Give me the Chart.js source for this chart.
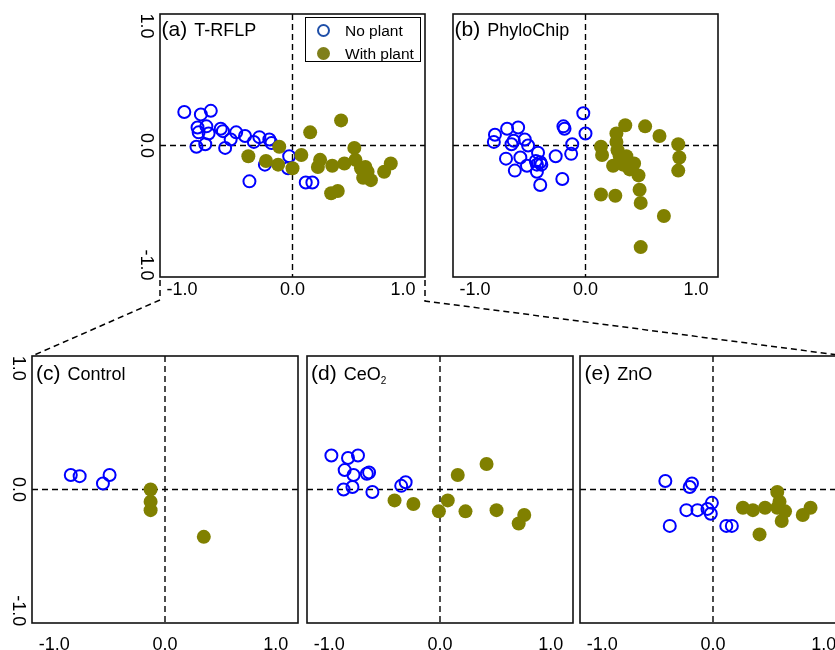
<!DOCTYPE html>
<html><head><meta charset="utf-8">
<script src="https://cdn.jsdelivr.net/npm/chart.js@4.4.1/dist/chart.umd.min.js"></script>
<style>
html,body{margin:0;padding:0;background:#fff;width:835px;height:650px;overflow:hidden;position:relative;font-family:"Liberation Sans",Arial,sans-serif;}
canvas{position:absolute;}
.ttl{position:absolute;display:flex;align-items:baseline;color:#000;white-space:nowrap;}
.ttl .lab{font-size:21px;line-height:21px;margin-right:7px;}
.ttl .nm{font-size:18px;line-height:18px;}
.ttl sub{font-size:10px;vertical-align:-4px;line-height:0;}
#legend{position:absolute;left:305px;top:17px;width:114px;height:43px;border:1.5px solid #000;background:#fff;}
#legend .mk{position:absolute;width:9px;height:9px;border-radius:50%;}
#legend .tx{position:absolute;left:39px;font-size:15.5px;line-height:16px;white-space:nowrap;}
svg{position:absolute;left:0;top:0;}
</style></head>
<body>
<script>
// ---- data (ordination scores) ----
const tickValues = [-1, 0, 1];
const axisMin = -1.2, axisMax = 1.2;
const yMin = -1.1, yMax = 1.1;

const trflpNoPlant = [[-0.98,0.28],[-0.83,0.26],[-0.74,0.29],[-0.86,0.15],[-0.78,0.16],[-0.85,0.11],[-0.76,0.10],[-0.65,0.14],[-0.63,0.12],[-0.87,-0.01],[-0.79,0.01],[-0.61,-0.02],[-0.56,0.05],[-0.51,0.11],[-0.43,0.08],[-0.35,0.03],[-0.30,0.07],[-0.21,0.05],[-0.19,0.02],[-0.25,-0.16],[-0.39,-0.30],[-0.03,-0.09],[-0.04,-0.19],[0.12,-0.31],[0.18,-0.31]];
const trflpWithPlant = [[0.44,0.21],[0.16,0.11],[-0.12,-0.01],[-0.40,-0.09],[-0.24,-0.13],[-0.13,-0.16],[0.00,-0.19],[0.08,-0.08],[0.25,-0.12],[0.23,-0.18],[0.36,-0.17],[0.47,-0.15],[0.56,-0.02],[0.57,-0.12],[0.62,-0.19],[0.64,-0.27],[0.71,-0.29],[0.66,-0.18],[0.83,-0.22],[0.89,-0.15],[0.35,-0.40],[0.41,-0.38],[0.68,-0.22]];

const phyloNoPlant = [[-0.02,0.27],[0.00,0.10],[-0.20,0.16],[-0.19,0.14],[-0.12,0.01],[-0.13,-0.07],[-0.27,-0.09],[-0.21,-0.28],[-0.82,0.09],[-0.83,0.03],[-0.71,0.14],[-0.61,0.15],[-0.67,0.01],[-0.65,0.04],[-0.55,0.05],[-0.52,0.00],[-0.72,-0.11],[-0.59,-0.10],[-0.64,-0.21],[-0.53,-0.17],[-0.43,-0.06],[-0.45,-0.13],[-0.41,-0.14],[-0.44,-0.16],[-0.44,-0.22],[-0.41,-0.33],[-0.40,-0.16]];
const phyloWithPlant = [[0.36,0.17],[0.54,0.16],[0.67,0.08],[0.84,0.01],[0.85,-0.10],[0.84,-0.21],[0.14,-0.01],[0.15,-0.08],[0.28,0.10],[0.28,0.03],[0.29,-0.04],[0.31,-0.09],[0.25,-0.17],[0.34,-0.16],[0.44,-0.15],[0.40,-0.20],[0.48,-0.25],[0.49,-0.37],[0.50,-0.48],[0.14,-0.41],[0.27,-0.42],[0.71,-0.59],[0.50,-0.85],[0.37,-0.09]];

const controlNoPlant = [[-0.85,0.12],[-0.77,0.11],[-0.56,0.05],[-0.50,0.12]];
const controlWithPlant = [[-0.13,0.00],[-0.13,-0.10],[-0.13,-0.17],[0.35,-0.39]];

const ceo2NoPlant = [[-0.98,0.28],[-0.83,0.26],[-0.74,0.28],[-0.86,0.16],[-0.78,0.12],[-0.66,0.13],[-0.64,0.14],[-0.87,0.00],[-0.79,0.02],[-0.61,-0.02],[-0.35,0.03],[-0.31,0.06]];
const ceo2WithPlant = [[0.42,0.21],[0.16,0.12],[0.07,-0.09],[-0.01,-0.18],[-0.41,-0.09],[-0.24,-0.12],[0.23,-0.18],[0.51,-0.17],[0.76,-0.21],[0.71,-0.28]];

const znoNoPlant = [[-0.43,0.07],[-0.19,0.05],[-0.21,0.02],[-0.01,-0.11],[-0.24,-0.17],[-0.14,-0.17],[-0.05,-0.16],[-0.02,-0.20],[-0.39,-0.30],[0.12,-0.30],[0.17,-0.30]];
const znoWithPlant = [[0.58,-0.02],[0.60,-0.10],[0.27,-0.15],[0.36,-0.17],[0.47,-0.15],[0.65,-0.18],[0.62,-0.26],[0.81,-0.21],[0.88,-0.15],[0.42,-0.37],[0.58,-0.15]];

const seriesNames = ['No plant', 'With plant'];
const panelLetters = ['(a)', '(b)', '(c)', '(d)', '(e)'];
const panelNames = ['T-RFLP', 'PhyloChip', 'Control', 'CeO<sub>2</sub>', 'ZnO'];

// ---- drawing ----
const BLUE = '#0000ff', OLIVE = '#808000';
const framePlugin = {
  id: 'frame',
  beforeDatasetsDraw(chart) {
    const {ctx, chartArea: a, scales: {x, y}} = chart;
    const x0 = x.getPixelForValue(0), y0 = y.getPixelForValue(0);
    ctx.save();
    ctx.setLineDash([6, 4]);
    ctx.lineWidth = 1.4;
    ctx.strokeStyle = '#000';
    ctx.beginPath();
    ctx.moveTo(x0, a.top); ctx.lineTo(x0, a.bottom);
    ctx.moveTo(a.left, y0); ctx.lineTo(a.right, y0);
    ctx.stroke();
    ctx.restore();
  },
  afterDraw(chart) {
    const {ctx, chartArea: a} = chart;
    ctx.save();
    ctx.lineWidth = 1.6;
    ctx.strokeStyle = '#111';
    ctx.strokeRect(a.left, a.top, a.right - a.left, a.bottom - a.top);
    ctx.restore();
  }
};

function setTicks(s) { s.ticks = tickValues.map(v => ({value: v})); }
function noPad(s) { s.paddingTop = 0; s.paddingBottom = 0; s.paddingLeft = 0; s.paddingRight = 0; }

function makePanel(box, noPlant, withPlant, showY, xPad) {
  const L = 40, P = 2, B = 32;
  const cv = document.createElement('canvas');
  cv.width = L + box.w + P; cv.height = P + box.h + B;
  cv.style.left = (box.l - L) + 'px'; cv.style.top = (box.t - P) + 'px';
  cv.style.width = cv.width + 'px'; cv.style.height = cv.height + 'px';
  document.body.appendChild(cv);
  const font = {family: '"Liberation Sans", Arial, sans-serif', size: 18};
  new Chart(cv, {
    type: 'scatter',
    data: {datasets: [
      {label: seriesNames[1], data: withPlant.map(([x, y]) => ({x, y})), backgroundColor: OLIVE, borderColor: OLIVE, borderWidth: 0, pointRadius: 7, pointHoverRadius: 7, order: 0},
      {label: seriesNames[0], data: noPlant.map(([x, y]) => ({x, y})), backgroundColor: 'rgba(0,0,0,0)', borderColor: BLUE, borderWidth: 2, pointRadius: 6, pointHoverRadius: 6, order: 1}
    ]},
    options: {
      responsive: false, animation: false, devicePixelRatio: 1,
      layout: {autoPadding: false, padding: {left: 0, top: P, right: P, bottom: 0}},
      plugins: {legend: {display: false}, tooltip: {enabled: false}},
      scales: {
        x: {type: 'linear', min: axisMin, max: axisMax, afterBuildTicks: setTicks,
            afterFit: s => { s.height = B; noPad(s); },
            grid: {display: false}, border: {display: false},
            ticks: {color: '#000', font, padding: xPad, autoSkip: false, maxRotation: 0,
                    callback: v => v.toFixed(1)}},
        y: {type: 'linear', min: yMin, max: yMax, afterBuildTicks: setTicks,
            afterFit: s => { s.width = L; noPad(s); },
            grid: {display: false}, border: {display: false},
            ticks: {display: showY, color: '#000', font, padding: -9.5, autoSkip: false,
                    minRotation: -90, maxRotation: -90, crossAlign: 'center',
                    callback: v => v.toFixed(1)}}
      }
    },
    plugins: [framePlugin]
  });
}

const boxes = [
  {l: 160, t: 14, w: 265, h: 263},
  {l: 453, t: 14, w: 265, h: 263},
  {l: 32, t: 356, w: 266, h: 267},
  {l: 307, t: 356, w: 266, h: 267},
  {l: 580, t: 356, w: 266, h: 267}
];
makePanel(boxes[0], trflpNoPlant, trflpWithPlant, true, -5.5);
makePanel(boxes[1], phyloNoPlant, phyloWithPlant, false, -5.5);
makePanel(boxes[2], controlNoPlant, controlWithPlant, true, 3);
makePanel(boxes[3], ceo2NoPlant, ceo2WithPlant, false, 3);
makePanel(boxes[4], znoNoPlant, znoWithPlant, false, 3);

const titlePos = [[161.5, 17.5], [454.5, 17.5], [36, 361.5], [311, 361.5], [584.5, 361.5]];
panelLetters.forEach((t, i) => {
  const d = document.createElement('div');
  d.className = 'ttl';
  d.style.left = titlePos[i][0] + 'px'; d.style.top = titlePos[i][1] + 'px';
  d.innerHTML = '<span class="lab">' + t + '</span><span class="nm">' + panelNames[i] + '</span>';
  document.body.appendChild(d);
});

// legend
const lg = document.createElement('div');
lg.id = 'legend';
lg.innerHTML =
  '<div class="mk" style="left:11px;top:6px;border:2px solid #1f4fa8;"></div>' +
  '<div class="tx" style="top:5px;">' + seriesNames[0] + '</div>' +
  '<div class="mk" style="left:11px;top:29px;width:13px;height:13px;background:#7f7f1a;"></div>' +
  '<div class="tx" style="top:28px;">' + seriesNames[1] + '</div>';
document.body.appendChild(lg);

// dashed connectors from panel (a) to the lower row
const ns = 'http://www.w3.org/2000/svg';
const svg = document.createElementNS(ns, 'svg');
svg.setAttribute('width', 835); svg.setAttribute('height', 650);
[[[160, 280], [160, 300], [32, 356]], [[425, 280], [425, 301], [846, 356]]].forEach(pts => {
  const pl = document.createElementNS(ns, 'polyline');
  pl.setAttribute('points', pts.map(p => p.join(',')).join(' '));
  pl.setAttribute('fill', 'none'); pl.setAttribute('stroke', '#000');
  pl.setAttribute('stroke-width', '1.5'); pl.setAttribute('stroke-dasharray', '6,4');
  svg.appendChild(pl);
});
document.body.appendChild(svg);
</script>
</body></html>
